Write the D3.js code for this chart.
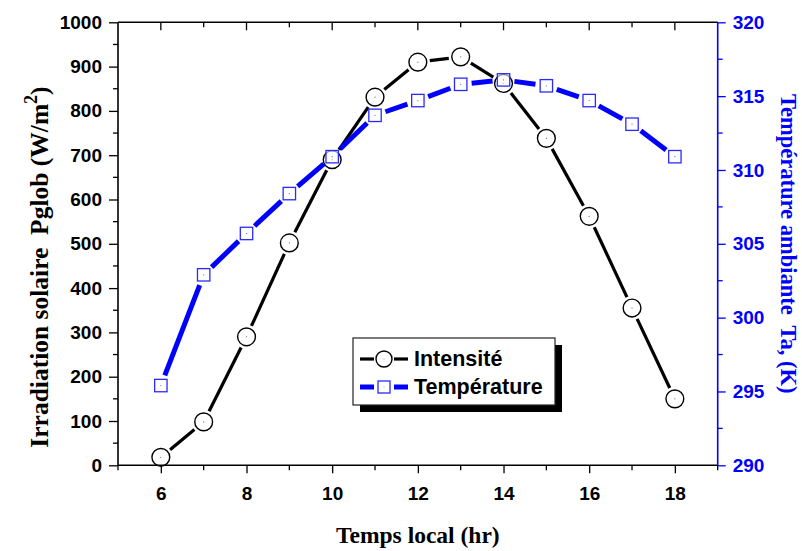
<!DOCTYPE html>
<html>
<head>
<meta charset="utf-8">
<script src="https://cdn.jsdelivr.net/npm/d3@7"></script>
<style>
  html, body { margin: 0; padding: 0; background: #fff; }
  svg { display: block; }
</style>
</head>
<body>
<svg id="chart" width="802" height="551"></svg>
<script>
// Local solar time (hours)
const hours = [6, 7, 8, 9, 10, 11, 12, 13, 14, 15, 16, 17, 18];
// Global solar irradiance Pglob (W/m²)
const intensite = [18, 98, 290, 502, 690, 831, 910, 922, 862, 738, 562, 355, 150];
// Ambient temperature Ta (K)
const temperature = [295.4, 302.9, 305.7, 308.4, 310.9, 313.7, 314.7, 315.8, 316.1, 315.7, 314.7, 313.1, 310.9];

const xTicks = [6, 8, 10, 12, 14, 16, 18];
const yLeftTicks = [0, 100, 200, 300, 400, 500, 600, 700, 800, 900, 1000];
const yRightTicks = [290, 295, 300, 305, 310, 315, 320];

const seriesNames = ["Intensité", "Température"];

const svg = d3.select("#chart");
const plot = { left: 118, right: 717.7, top: 22.3, bottom: 465.3 };

const x = d3.scaleLinear().domain([5, 19]).range([plot.left, plot.right]);
const yL = d3.scaleLinear().domain([0, 1000]).range([plot.bottom, plot.top]);
const yR = d3.scaleLinear().domain([290, 320]).range([plot.bottom, plot.top]);

const tickFont = "'Liberation Sans', Arial, sans-serif";
const titleFont = "'Liberation Serif', 'Times New Roman', serif";
const BLUE = "#0000ff";

// ---- axes ----
function styleAxis(g, color, fontSize) {
  g.select(".domain").remove();
  g.selectAll("line").attr("stroke", color).attr("stroke-width", 1.3);
  g.selectAll("text")
    .attr("fill", color)
    .style("font-family", tickFont)
    .style("font-weight", "bold")
    .style("font-size", fontSize + "px");
}

const minorX = d3.range(5, 20, 1).filter(v => !xTicks.includes(v));
const minorL = d3.range(50, 1000, 100);
const minorR = d3.range(292.5, 320, 5);

// bottom axis
const gB = svg.append("g").attr("transform", `translate(0,${plot.bottom})`);
gB.call(d3.axisBottom(x).tickValues(xTicks).tickFormat(d3.format("d")).tickSize(8).tickPadding(13));
styleAxis(gB, "#000", 19);
gB.append("g").selectAll("line").data(minorX).join("line")
  .attr("x1", d => x(d)).attr("x2", d => x(d)).attr("y1", 0).attr("y2", 5)
  .attr("stroke", "#000").attr("stroke-width", 1.3);

// top axis (mirror, ticks inward)
const gT = svg.append("g").attr("transform", `translate(0,${plot.top})`);
gT.selectAll("line.maj").data(xTicks).join("line")
  .attr("x1", d => x(d)).attr("x2", d => x(d)).attr("y1", 0).attr("y2", 8)
  .attr("stroke", "#000").attr("stroke-width", 1.3);
gT.selectAll("line.min").data(minorX.filter(v => v > 5 && v < 19)).join("line")
  .attr("x1", d => x(d)).attr("x2", d => x(d)).attr("y1", 0).attr("y2", 5)
  .attr("stroke", "#000").attr("stroke-width", 1.3);

// left axis
const gL = svg.append("g").attr("transform", `translate(${plot.left},0)`);
gL.call(d3.axisLeft(yL).tickValues(yLeftTicks).tickFormat(d3.format("d")).tickSize(9).tickPadding(7));
styleAxis(gL, "#000", 19);
gL.append("g").selectAll("line").data(minorL).join("line")
  .attr("x1", 0).attr("x2", -5).attr("y1", d => yL(d)).attr("y2", d => yL(d))
  .attr("stroke", "#000").attr("stroke-width", 1.3);

// right axis
const gR = svg.append("g").attr("transform", `translate(${plot.right},0)`);
gR.call(d3.axisRight(yR).tickValues(yRightTicks).tickFormat(d3.format("d")).tickSize(8).tickPadding(7));
styleAxis(gR, BLUE, 19);
gR.append("g").selectAll("line").data(minorR).join("line")
  .attr("x1", 0).attr("x2", 5).attr("y1", d => yR(d)).attr("y2", d => yR(d))
  .attr("stroke", BLUE).attr("stroke-width", 1.3);

// frame lines
svg.append("line").attr("x1", plot.left).attr("x2", plot.right).attr("y1", plot.top).attr("y2", plot.top)
  .attr("stroke", "#000").attr("stroke-width", 1.6);
svg.append("line").attr("x1", plot.left).attr("x2", plot.right).attr("y1", plot.bottom).attr("y2", plot.bottom)
  .attr("stroke", "#000").attr("stroke-width", 1.6);
svg.append("line").attr("x1", plot.left).attr("x2", plot.left).attr("y1", plot.top).attr("y2", plot.bottom)
  .attr("stroke", "#000").attr("stroke-width", 1.6);
svg.append("line").attr("x1", plot.right).attr("x2", plot.right).attr("y1", plot.top).attr("y2", plot.bottom)
  .attr("stroke", BLUE).attr("stroke-width", 1.6);

// ---- series ----
// connecting segments stop short of each marker, leaving a small gap
function gappedSegments(pts, gap) {
  const segs = [];
  for (let i = 0; i < pts.length - 1; i++) {
    const [x0, y0] = pts[i], [x1, y1] = pts[i + 1];
    const dx = x1 - x0, dy = y1 - y0, len = Math.hypot(dx, dy);
    if (len <= 2 * gap) continue;
    const ux = dx / len, uy = dy / len;
    segs.push([x0 + ux * gap, y0 + uy * gap, x1 - ux * gap, y1 - uy * gap]);
  }
  return segs;
}

const ptsI = hours.map((h, i) => [x(h), yL(intensite[i])]);
const ptsT = hours.map((h, i) => [x(h), yR(temperature[i])]);

const gI = svg.append("g");
gI.selectAll("line").data(gappedSegments(ptsI, 12)).join("line")
  .attr("x1", d => d[0]).attr("y1", d => d[1]).attr("x2", d => d[2]).attr("y2", d => d[3])
  .attr("stroke", "#000").attr("stroke-width", 3.2);
gI.selectAll("circle.m").data(ptsI).join("circle").attr("class", "m")
  .attr("cx", d => d[0]).attr("cy", d => d[1]).attr("r", 8.9)
  .attr("fill", "#fff").attr("fill-opacity", 0).attr("stroke", "#000").attr("stroke-width", 1.4);
gI.selectAll("circle.c").data(ptsI).join("circle").attr("class", "c")
  .attr("cx", d => d[0]).attr("cy", d => d[1]).attr("r", 0.6).attr("fill", "#666");

const gTe = svg.append("g");
gTe.selectAll("line").data(gappedSegments(ptsT, 11)).join("line")
  .attr("x1", d => d[0]).attr("y1", d => d[1]).attr("x2", d => d[2]).attr("y2", d => d[3])
  .attr("stroke", BLUE).attr("stroke-width", 5);
gTe.selectAll("rect").data(ptsT).join("rect")
  .attr("x", d => d[0] - 6.2).attr("y", d => d[1] - 6.2).attr("width", 12.4).attr("height", 12.4)
  .attr("fill", "#fff").attr("fill-opacity", 0.6).attr("stroke", "#2a2aff").attr("stroke-width", 1.3);
gTe.selectAll("circle").data(ptsT).join("circle")
  .attr("cx", d => d[0]).attr("cy", d => d[1]).attr("r", 0.6).attr("fill", "#6666ff");

// ---- axis titles ----
svg.append("text")
  .attr("x", (plot.left + plot.right) / 2).attr("y", 543)
  .attr("text-anchor", "middle")
  .style("font-family", titleFont).style("font-weight", "bold").style("font-size", "23.5px")
  .text("Temps local (hr)");

const leftTitle = svg.append("text")
  .attr("transform", `translate(48,267) rotate(-90)`)
  .attr("text-anchor", "middle")
  .style("font-family", titleFont).style("font-weight", "bold").style("font-size", "25.5px")
  .style("white-space", "pre");
leftTitle.append("tspan").text("Irradiation solaire  Pglob (W/m");
leftTitle.append("tspan").attr("dy", -11).style("font-size", "18px").text("2");
leftTitle.append("tspan").attr("dy", 11).text(")");

svg.append("text")
  .attr("transform", `translate(781,${(plot.top + plot.bottom) / 2}) rotate(90)`)
  .attr("text-anchor", "middle")
  .attr("fill", BLUE)
  .style("font-family", titleFont).style("font-weight", "bold").style("font-size", "22.5px")
  .style("white-space", "pre")
  .text("Température ambiante  Ta, (K)");

// ---- legend ----
const lg = svg.append("g");
const box = { x: 353, y: 338, w: 202, h: 67 };
lg.append("rect").attr("x", box.x + 7).attr("y", box.y + 7).attr("width", box.w).attr("height", box.h).attr("fill", "#000");
lg.append("rect").attr("x", box.x).attr("y", box.y).attr("width", box.w).attr("height", box.h)
  .attr("fill", "#fff").attr("stroke", "#222").attr("stroke-width", 1.2);

const rows = [
  { name: seriesNames[0], y: 359, color: "#000", lw: 3.2, marker: "circle" },
  { name: seriesNames[1], y: 387, color: BLUE, lw: 5, marker: "square" }
];
rows.forEach(r => {
  const cx = 384;
  lg.append("line").attr("x1", 360).attr("x2", cx - 10).attr("y1", r.y).attr("y2", r.y)
    .attr("stroke", r.color).attr("stroke-width", r.lw);
  lg.append("line").attr("x1", cx + 10).attr("x2", 408).attr("y1", r.y).attr("y2", r.y)
    .attr("stroke", r.color).attr("stroke-width", r.lw);
  if (r.marker === "circle") {
    lg.append("circle").attr("cx", cx).attr("cy", r.y).attr("r", 8).attr("fill", "#fff")
      .attr("stroke", "#000").attr("stroke-width", 1.4);
  } else {
    lg.append("rect").attr("x", cx - 6).attr("y", r.y - 6).attr("width", 12).attr("height", 12)
      .attr("fill", "#fff").attr("stroke", "#2a2aff").attr("stroke-width", 1.3);
  }
  lg.append("circle").attr("cx", cx).attr("cy", r.y).attr("r", 0.5).attr("fill", "#888");
  lg.append("text").attr("x", 414).attr("y", r.y + 7)
    .style("font-family", tickFont).style("font-weight", "bold").style("font-size", "21.5px")
    .text(r.name);
});
</script>
</body>
</html>
